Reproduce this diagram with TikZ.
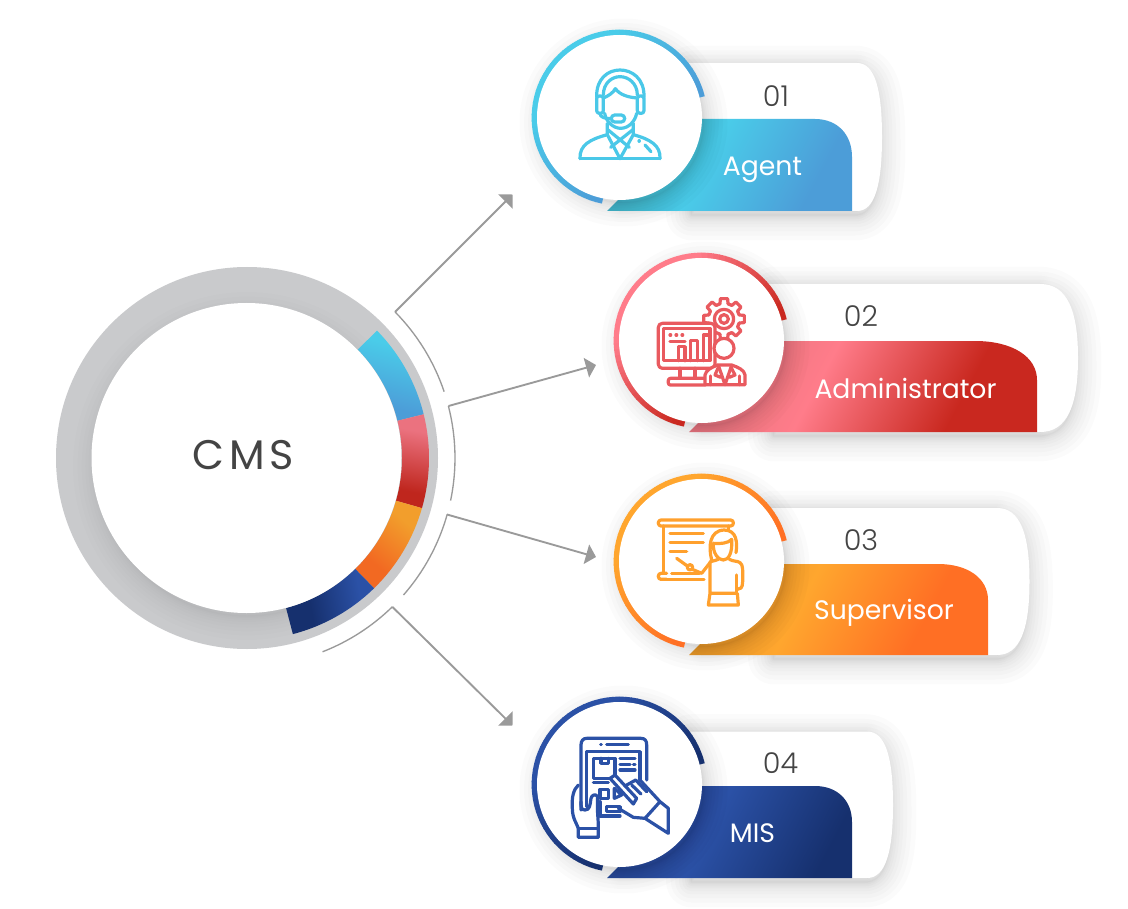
\documentclass[tikz,border=0pt]{standalone}
\usepackage{fontspec}
\setmainfont{Poppins}
\newfontfamily\lightf{Poppins}[UprightFont=* Light]
\usetikzlibrary{arrows.meta}
\definecolor{ringgray}{HTML}{C9CACC}
\definecolor{linegray}{HTML}{9A9A9A}
\definecolor{txt}{HTML}{444444}
\definecolor{cyA}{HTML}{42B1C8}\definecolor{cyB}{HTML}{4ACCE9}\definecolor{cyC}{HTML}{4C9DD8}
\definecolor{rdA}{HTML}{E8747E}\definecolor{rdB}{HTML}{FF7C8A}\definecolor{rdC}{HTML}{C9281F}
\definecolor{orA}{HTML}{E89A2A}\definecolor{orB}{HTML}{FFA62E}\definecolor{orC}{HTML}{FF6F24}
\definecolor{blA}{HTML}{284C9A}\definecolor{blB}{HTML}{2B51A6}\definecolor{blC}{HTML}{16306E}
\pgfdeclarehorizontalshading{gcy}{100bp}{color(0bp)=(cyA);color(25bp)=(cyA);color(44bp)=(cyB);color(72bp)=(cyC);color(100bp)=(cyC)}
\pgfdeclarehorizontalshading{grd}{100bp}{color(0bp)=(rdA);color(25bp)=(rdA);color(42bp)=(rdB);color(68bp)=(rdC);color(100bp)=(rdC)}
\pgfdeclarehorizontalshading{gor}{100bp}{color(0bp)=(orA);color(25bp)=(orA);color(42bp)=(orB);color(68bp)=(orC);color(100bp)=(orC)}
\pgfdeclarehorizontalshading{gbl}{100bp}{color(0bp)=(blA);color(25bp)=(blA);color(45bp)=(blB);color(75bp)=(blC);color(100bp)=(blC)}
\pgfdeclarehorizontalshading{segcy}{100bp}{color(0bp)=(cyC);color(32bp)=(cyC);color(68bp)=(cyB);color(100bp)=(cyB)}
\pgfdeclarehorizontalshading{segrd}{100bp}{color(0bp)=(rdC!95!black);color(32bp)=(rdC!95!black);color(68bp)=(rdB!92!black);color(100bp)=(rdB!92!black)}
\pgfdeclarehorizontalshading{segor}{100bp}{color(0bp)=(orC!95!black);color(35bp)=(orC!95!black);color(68bp)=(orB!95!black);color(100bp)=(orB!95!black)}
\pgfdeclarehorizontalshading{segbl}{100bp}{color(0bp)=(blC);color(38bp)=(blC);color(68bp)=(blB);color(100bp)=(blB)}
\tikzset{
  conn/.style={draw=linegray,line width=1.4pt,-{Triangle[length=7.5pt,width=15pt,fill=linegray]}},
  thinarc/.style={draw=linegray,line width=1pt},
  numlabel/.style={text=txt,font=\lightf\fontsize{21.5}{21.5}\selectfont,inner sep=0pt,anchor=base},
  namelabel/.style={text=white,font=\fontsize{20}{22}\selectfont,inner sep=0pt,anchor=base},
  whitedisc/.style={circle,fill=white,minimum size=123.75pt,inner sep=0pt,draw=none},
  ico/.style={line width=2.4pt,line cap=round,line join=round,fill=none},
}
% soft shadow: stacked translucent strokes; alpha, widest stroke in pt, path
\newcommand{\softshadow}[3]{%
  \foreach \i in {1,...,10}{
    \path[draw=black,draw opacity=#1,line width={\i*\i*#2/100*1pt},line join=round] #3;
  }
}
\newcommand{\cardbody}[5]{% shading, angle, light, dark, name
  \pgfmathsetmacro{\mid}{(\top+\bot)/2}
  \pgfmathsetmacro{\hh}{\bot-\top}
  \pgfmathsetmacro{\shx}{\cx+72}
  \pgfmathsetmacro{\ctla}{\xc+0.72*(\xr-\xc)}
  \pgfmathsetmacro{\ctlb}{\top+0.18*\hh}
  \pgfmathsetmacro{\ctlc}{\bot-0.18*\hh}
  \pgfmathsetmacro{\shr}{\xr-2}
  \pgfmathsetmacro{\sxc}{\xc-2}
  \pgfmathsetmacro{\sb}{\bot+4}
  \pgfmathsetmacro{\st}{\top+8}
  \softshadow{0.016}{38}{(\shx,\st) -- (\sxc,\st) .. controls (\ctla,\st) and (\shr,\ctlb+8) .. (\shr,\mid+8) .. controls (\shr,\ctlc+4) and (\ctla,\sb) .. (\sxc,\sb) -- (\shx,\sb) -- cycle}
  \softshadow{0.002}{16}{(\cx,\top) -- (\xc,\top) -- (\xc,\bot) -- (\cx,\bot) -- cycle}
  \fill[white] (\cx,\top) -- (\xc,\top) .. controls (\ctla,\top) and (\xr,\ctlb) .. (\xr,\mid) .. controls (\xr,\ctlc) and (\ctla,\bot) .. (\xc,\bot) -- (\cx,\bot) -- cycle;
  \pgfmathsetmacro{\tipb}{\tip+40}
  \pgfmathsetmacro{\tipc}{\bot-40}
  \shade[shading=#1,shading angle=#2] (\tip,\bot) -- (\tipb,\tipc) -- (\tipb,\ctop) -- (\cstart,\ctop) .. controls (\cstart+0.6*\cright-0.6*\cstart,\ctop) and (\cright,\ctop+0.4*\cend-0.4*\ctop) .. (\cright,\cend) -- (\cright,\bot) -- cycle;
  \softshadow{0.016}{36}{(\cx+4,\cy+5) circle (80)}
  \foreach \a in {14,18,...,254}{
    \pgfmathsetmacro{\t}{abs(\a-135)}
    \pgfmathsetmacro{\p}{\t<45?100:max(0,100-(\t-45)*1.4)}
    \pgfmathsetmacro{\aa}{\a+4.5}
    \begin{scope}[shift={(\cx,\cy)},y=0.75pt]
      \draw[#3!\p!#4,line width=4.3pt] (\a:85) arc (\a:\aa:85);
    \end{scope}
  }
  \node[whitedisc] (#5) at (\cx,\cy) {};
}
\begin{document}
\begin{tikzpicture}[x=0.75pt,y=-0.75pt]
\useasboundingbox (0,0) rectangle (1128,909);
\fill[white] (0,0) rectangle (1128,909);

% ---------- main ring
\fill[ringgray] (247,458) circle (191);
\begin{scope}
  \clip (247,458) circle (191);
  \softshadow{0.006}{36}{(247,466) circle (150)}
\end{scope}
\begin{scope}[shift={(247,458)},y=0.75pt]
  \shade[shading=segcy,shading angle=75] (44.4:155) arc (44.4:13.9:155) -- (13.9:182) arc (13.9:44.4:182) -- cycle;
  \shade[shading=segrd,shading angle=80] (13.9:155) arc (13.9:-16:155) -- (-16:182) arc (-16:13.9:182) -- cycle;
  \shade[shading=segor,shading angle=50] (-16:155) arc (-16:-45.7:155) -- (-45.7:182) arc (-45.7:-16:182) -- cycle;
  \shade[shading=segbl,shading angle=10] (-45.7:155) arc (-45.7:-75.4:155) -- (-75.4:182) arc (-75.4:-45.7:182) -- cycle;
\end{scope}
\node[circle,fill=white,minimum size=232.5pt,inner sep=0pt] (cms) at (246.5,458) {};
\node[text=txt,font=\fontsize{31}{31}\selectfont,inner sep=0pt,anchor=base] (cmslabel) at (243,469) {\addfontfeature{LetterSpace=12}CMS};

% ---------- thin arcs and connectors
\coordinate (a1s) at (395,312); \coordinate (a1e) at (512.5,194.5);
\coordinate (a2s) at (448.5,406); \coordinate (a2e) at (596,365);
\coordinate (a3s) at (447,514.5); \coordinate (a3e) at (596,557);
\coordinate (a4s) at (392.5,607); \coordinate (a4e) at (512.5,725.5);
\begin{scope}[shift={(247,458)},y=0.75pt]
  \draw[thinarc] (44.6:208) arc (44.6:18.6:208);
  \draw[thinarc] (14.5:208) arc (14.5:-11.8:208);
  \draw[thinarc] (-15.7:208) arc (-15.7:-41.2:208);
  \draw[thinarc] (-45.6:208) arc (-45.6:-68.7:208);
\end{scope}
\draw[conn] (a1s) -- (a1e);
\draw[conn] (a2s) -- (a2e);
\draw[conn] (a3s) -- (a3e);
\draw[conn] (a4s) -- (a4e);

% ---------- card 1
\def\cx{619.5}\def\cy{117.5}\def\top{63}\def\bot{211}\def\xc{857}\def\xr{882}
\def\cstart{815}\def\ctop{119}\def\cright{852}\def\cend{157}\def\tip{607}
\cardbody{gcy}{-28}{cyB}{cyC}{c1}
\node[numlabel] (n1) at (776,106.5) {01};
\node[namelabel] (t1) at (762.5,176) {Agent};
% ---------- card 2
\def\cx{701.5}\def\cy{340.5}\def\top{284}\def\bot{432}\def\xc{1040}\def\xr{1078}
\def\cstart{975}\def\ctop{341}\def\cright{1037}\def\cend{380}\def\tip{689}
\cardbody{grd}{-28}{rdB}{rdC}{c2}
\node[numlabel] (n2) at (861,326.5) {02};
\node[namelabel] (t2) at (905.5,398) {Administrator};
% ---------- card 3
\def\cx{701.5}\def\cy{561.5}\def\top{508}\def\bot{655}\def\xc{997}\def\xr{1029.5}
\def\cstart{938}\def\ctop{564}\def\cright{988}\def\cend{600}\def\tip{689}
\cardbody{gor}{-28}{orB}{orC}{c3}
\node[numlabel] (n3) at (861,550.5) {03};
\node[namelabel] (t3) at (884,619) {Supervisor};
% ---------- card 4
\def\cx{619.5}\def\cy{784.5}\def\top{731.5}\def\bot{878}\def\xc{867}\def\xr{893}
\def\cstart{815}\def\ctop{786}\def\cright{852}\def\cend{822}\def\tip{607}
\cardbody{gbl}{-28}{blB}{blC}{c4}
\node[numlabel] (n4) at (780.5,773.5) {04};
\node[namelabel] (t4) at (752.5,842.5) {MIS};

% ---------- icon 1: agent
\begin{scope}[shift={(570,60)},x=0.25pt,y=-0.25pt,ico,draw=cyB!92!cyC]
  \draw (80,112) .. controls (78,55) and (115,30) .. (150,30) .. controls (185,30) and (224,55) .. (222,112);
  \draw (100,105) .. controls (100,70) and (125,50) .. (150,50) .. controls (175,50) and (202,70) .. (202,105);
  \draw[rounded corners=2pt] (80,108) -- (100,108) -- (100,160) -- (80,160) -- cycle;
  \draw[rounded corners=2pt] (202,108) -- (222,108) -- (222,160) -- (202,160) -- cycle;
  \draw (100,114) .. controls (115,108) and (130,98) .. (136,86) .. controls (150,105) and (175,112) .. (202,114);
  \draw (104,160) .. controls (108,185) and (130,205) .. (152,205) .. controls (175,205) and (195,185) .. (200,160);
  \draw (90,160) .. controls (90,172) and (105,176) .. (124,176);
  \draw[fill=white,rounded corners=2.5pt] (124,165) -- (164,165) -- (164,186) -- (124,186) -- cycle;
  \draw (30,296) -- (270,296);
  \draw (30,296) .. controls (28,255) and (60,238) .. (112,224);
  \draw (270,296) .. controls (272,255) and (240,238) .. (190,224);
  \draw (112,190) -- (112,224) -- (150,296) -- (190,224) -- (190,190);
  \draw (112,208) -- (178,262);
  \draw (190,208) -- (122,262);
  \draw (207,243) -- (208,243);
  \draw (225,255) -- (243,275);
\end{scope}
% ---------- icon 2: administrator
\begin{scope}[shift={(650,290)},x=0.25pt,y=-0.25pt,ico,draw=rdB!60!rdC]
  \begin{scope}[shift={(222,87)},y=0.25pt]
    \foreach \a in {0,45,...,315}{
      \pgfmathsetmacro{\b}{\a-15}\pgfmathsetmacro{\c}{\a+15}\pgfmathsetmacro{\d}{\a+30}
      \draw (\b:47) -- (\a-10:62) -- (\a+10:62) -- (\c:47) arc (\c:\d:47);
    }
    \draw (0,0) circle[radius=29];
    \draw (0,0) circle[radius=13];
  \end{scope}
  \draw[fill=white,rounded corners=3pt] (25,100) rectangle (195,235);
  \draw (40,115) -- (180,115) -- (180,212) -- (40,212) -- cycle;
  \draw (85,212) -- (85,170) -- (105,170) -- (105,212);
  \draw (122,212) -- (122,152) -- (143,152) -- (143,212);
  \draw (160,212) -- (160,135) -- (180,135);
  \draw (60,135) -- (62,135) (78,135) -- (80,135) (96,135) -- (98,135);
  \draw (60,155) -- (105,155);
  \draw (90,235) -- (90,265) (135,235) -- (135,265);
  \draw[rounded corners=1.5pt] (55,265) rectangle (170,285);
  \draw[fill=white] (165,284) -- (165,255) .. controls (168,240) and (185,232) .. (203,225) -- (245,225) .. controls (265,232) and (283,240) .. (285,255) -- (285,284) -- cycle;
  \draw[fill=white] (222,175) circle[radius=30];
  \draw (205,226) -- (225,284) -- (245,226);
  \draw (205,232) -- (195,255) -- (212,262);
  \draw (243,232) -- (255,255) -- (238,262);
  \draw (182,284) -- (182,258) (268,284) -- (268,258);
\end{scope}
% ---------- icon 3: supervisor
\begin{scope}[shift={(650,510)},x=0.25pt,y=-0.25pt,ico,draw=orB!90!orC]
  \draw[rounded corners=2pt] (25,30) rectangle (250,48);
  \draw (40,48) -- (40,190);
  \draw (235,48) -- (235,58);
  \draw (60,70) -- (160,70) (60,97) -- (160,97) (60,125) -- (110,125);
  \draw[rounded corners=2pt] (50,208) -- (25,208) -- (25,190) -- (50,190);
  \draw (65,190) -- (148,190);
  \draw (50,208) -- (162,208);
  \draw (80,145) -- (112,168);
  \draw (120,172) circle[radius=8];
  \draw (127,178) -- (155,190) -- (180,158);
  \draw (185,150) .. controls (175,110) and (178,62) .. (222,60) .. controls (262,60) and (262,100) .. (258,128);
  \draw (190,100) .. controls (210,102) and (235,100) .. (245,88);
  \draw (190,100) .. controls (188,130) and (205,150) .. (220,150) .. controls (235,150) and (248,130) .. (245,88);
  \draw (180,155) .. controls (195,152) and (200,150) .. (205,148);
  \draw (238,148) .. controls (250,155) and (262,152) .. (270,158) .. controls (280,165) and (278,180) .. (278,215) .. controls (278,235) and (270,238) .. (262,238);
  \draw (180,158) -- (180,250) -- (175,285) -- (265,285) -- (262,250) -- (180,250);
  \draw (260,195) -- (260,250);
\end{scope}
% ---------- icon 4: MIS
\begin{scope}[shift={(565,730)},x=0.25pt,y=-0.25pt,ico,draw=blB]
  \draw (48,240) -- (48,45) .. controls (48,32) and (55,25) .. (65,25) -- (228,25) .. controls (240,25) and (245,32) .. (245,45) -- (245,150);
  \draw (65,230) -- (65,65) -- (225,65) -- (225,150);
  \draw (107,43) -- (109,43) (125,43) -- (190,43);
  \draw (85,145) -- (85,85) -- (150,85) -- (150,145) -- cycle;
  \draw (108,85) -- (108,100) -- (130,100) -- (130,85);
  \draw (165,85) -- (210,85) (165,103) -- (195,103) (205,103) -- (210,103) (165,120) -- (210,120);
  \draw (85,158) -- (130,158);
  \draw (105,178) rectangle (130,205);
  \draw (148,175) -- (170,195) -- (148,205) -- cycle;
  \draw (105,215) -- (105,258) -- (165,258);
  \draw (125,230) rectangle (165,245);
  \draw[fill=white] (135,145) -- (205,222) -- (215,205) -- (150,135) -- cycle;
  \draw (180,168) -- (212,150) -- (245,185);
  \draw (200,165) -- (228,192);
  \draw (225,150) -- (285,215) -- (310,235) -- (310,310) -- (240,265) -- (285,215);
  \draw (160,235) -- (205,262) -- (240,265);
  \draw (40,165) .. controls (25,180) and (20,200) .. (22,235) .. controls (22,265) and (35,280) .. (40,295) -- (40,322) -- (100,322) -- (100,295) .. controls (100,260) and (95,240) .. (98,200) .. controls (92,190) and (80,195) .. (78,205) .. controls (75,225) and (75,240) .. (60,240) .. controls (48,240) and (48,230) .. (48,215);
  \draw (40,295) -- (100,295);
\end{scope}
\end{tikzpicture}
\end{document}
